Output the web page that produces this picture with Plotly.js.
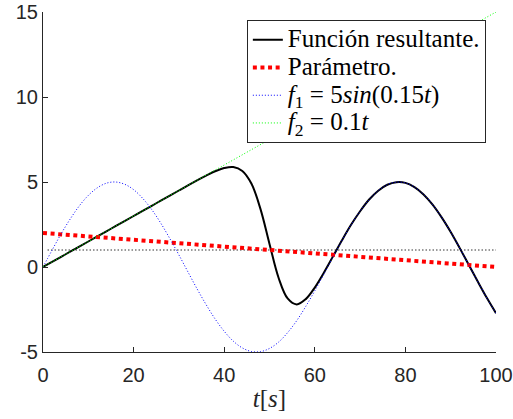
<!DOCTYPE html>
<html>
<head>
<meta charset="utf-8">
<script src="https://cdn.plot.ly/plotly-3.0.1.min.js"></script>
<style>html,body{margin:0;padding:0;background:#fff;}#chart{width:513px;height:419px;}</style>
</head>
<body>
<div id="chart"></div>
<script>
// Time samples (s)
var t = [0,2,4,6,8,10,12,14,16,18,20,22,24,26,28,30,32,34,36,38,40,42,44,46,48,50,52,54,56,58,60,62,64,66,68,70,72,74,76,78,80,82,84,86,88,90,92,94,96,98,100];

// Función resultante
var resultante = [0,0.3,0.6,0.9,1.2,1.5,1.8,2.1,2.4,2.7,3.0,3.3,3.6,3.9,4.2,4.5,4.8,5.09,5.37,5.63,5.82,5.88,5.65,4.91,3.42,1.36,-0.63,-1.85,-2.20,-1.89,-1.21,-0.34,0.61,1.57,2.48,3.28,3.97,4.49,4.84,4.99,4.95,4.70,4.27,3.67,2.92,2.06,1.11,0.12,-0.87,-1.83,-2.72];

// Parámetro
var parametro = [2.00,1.96,1.92,1.88,1.84,1.80,1.76,1.72,1.68,1.64,1.60,1.56,1.52,1.48,1.44,1.40,1.36,1.32,1.28,1.24,1.20,1.16,1.12,1.08,1.04,1.00,0.96,0.92,0.88,0.84,0.80,0.76,0.72,0.68,0.64,0.60,0.56,0.52,0.48,0.44,0.40,0.36,0.32,0.28,0.24,0.20,0.16,0.12,0.08,0.04,0.00];

// f1
var f1 = [0,0.99,1.95,2.82,3.59,4.21,4.66,4.93,5.00,4.87,4.55,4.04,3.38,2.58,1.67,0.71,-0.29,-1.28,-2.21,-3.06,-3.78,-4.36,-4.76,-4.97,-4.98,-4.79,-4.42,-3.86,-3.16,-2.32,-1.40,-0.42,0.58,1.56,2.47,3.28,3.97,4.49,4.84,4.99,4.95,4.70,4.27,3.67,2.92,2.06,1.11,0.12,-0.87,-1.83,-2.72];

// f2
var f2 = [0,0.3,0.6,0.9,1.2,1.5,1.8,2.1,2.4,2.7,3.0,3.3,3.6,3.9,4.2,4.5,4.8,5.1,5.4,5.7,6.0,6.3,6.6,6.9,7.2,7.5,7.8,8.1,8.4,8.7,9.0,9.3,9.6,9.9,10.2,10.5,10.8,11.1,11.4,11.7,12.0,12.3,12.6,12.9,13.2,13.5,13.8,14.1,14.4,14.7,15.0];

// Reference level line
var refX = [1,100];
var refY = [1,1];

var xTickVals = [0,20,40,60,80,100];
var xTickText = ["0","20","40","60","80","100"];
var yTickVals = [-5,0,5,10,15];
var yTickText = ["-5","0","5","10","15"];

var names = ["Función resultante.", "Parámetro.", "<i>f</i><sub>1</sub> = 5<i>sin</i>(0.15<i>t</i>)", "<i>f</i><sub>2</sub> = 0.1<i>t</i>"];

function big(s) { return '<span style="font-size:25px">' + s + '</span>'; }

var traces = [
  {x: refX, y: refY, mode: "lines", showlegend: false, hoverinfo: "skip",
   line: {color: "#333333", width: 1, dash: "1.5px,2px"}},
  {x: t, y: resultante, mode: "lines", name: big(names[0]),
   line: {color: "#000000", width: 2, shape: "spline"}},
  {x: t, y: parametro, mode: "lines", name: big(names[1]),
   line: {color: "#ff0000", width: 4, dash: "4px,3.6px"}},
  {x: t, y: f1, mode: "lines", name: big(names[2]),
   line: {color: "#0000ff", width: 1, dash: "1px,2px", shape: "spline"}},
  {x: t, y: f2, mode: "lines", name: big(names[3]),
   line: {color: "#00ff00", width: 1, dash: "1px,2px"}}
];

var axisCommon = {
  showline: true, linecolor: "#262626", linewidth: 1,
  ticks: "inside", ticklen: 5, tickcolor: "#262626", tickwidth: 1,
  showgrid: false, zeroline: false, mirror: false,
  tickfont: {family: "Liberation Sans, Arial, sans-serif", size: 20, color: "#262626"}
};

var layout = {
  width: 513, height: 419,
  margin: {l: 43, r: 17, t: 12, b: 67},
  paper_bgcolor: "#ffffff", plot_bgcolor: "#ffffff",
  showlegend: true,
  xaxis: Object.assign({}, axisCommon, {
    range: [0, 100], tickmode: "array", tickvals: xTickVals, ticktext: xTickText,
    ticklabelstandoff: 5,
    title: {text: "<i>t</i>[<i>s</i>]", font: {family: "Liberation Serif, Times New Roman, serif", size: 25, color: "#262626"}, standoff: 4}
  }),
  yaxis: Object.assign({}, axisCommon, {
    range: [-5, 15], tickmode: "array", tickvals: yTickVals, ticktext: yTickText
  }),
  legend: {
    x: 0.45, y: 0.9765, xanchor: "left", yanchor: "top",
    bgcolor: "#ffffff", bordercolor: "#262626", borderwidth: 1,
    font: {family: "Liberation Serif, Times New Roman, serif", size: 19, color: "#000000"},
    traceorder: "normal"
  }
};

Plotly.newPlot("chart", traces, layout, {displayModeBar: false, staticPlot: true});
</script>
</body>
</html>
